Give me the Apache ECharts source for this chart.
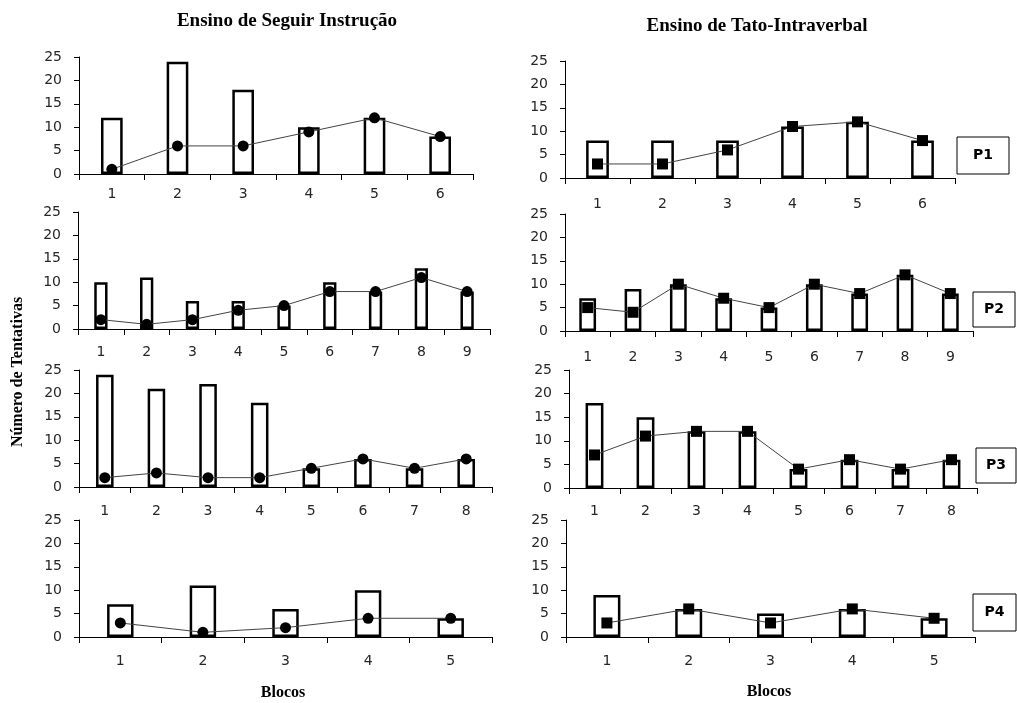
<!DOCTYPE html>
<html>
<head>
<meta charset="utf-8">
<script src="https://cdn.jsdelivr.net/npm/echarts@6/dist/echarts.min.js"></script>
<style>html,body{margin:0;padding:0;background:#fff}#c{width:1017px;height:703px}</style>
</head>
<body>
<div id="c"></div>
<script>
// ---- Data ----
const titleLeft = 'Ensino de Seguir Instrução';
const titleRight = 'Ensino de Tato-Intraverbal';
const yAxisTitle = 'Número de Tentativas';
const xAxisTitle = 'Blocos';
const participantLabels = ['P1', 'P2', 'P3', 'P4'];
const yTickValues = [0, 5, 10, 15, 20, 25];

const blocksP1 = ['1', '2', '3', '4', '5', '6'];
const blocksP2 = ['1', '2', '3', '4', '5', '6', '7', '8', '9'];
const blocksP3 = ['1', '2', '3', '4', '5', '6', '7', '8'];
const blocksP4 = ['1', '2', '3', '4', '5'];

// Seguir Instrução (left column): bars and line (circles)
const siP1Bars = [12, 24, 18, 10, 12, 8];
const siP1Line = [1, 6, 6, 9, 12, 8];
const siP2Bars = [10, 11, 6, 6, 5, 10, 8, 13, 8];
const siP2Line = [2, 1, 2, 4, 5, 8, 8, 11, 8];
const siP3Bars = [24, 21, 22, 18, 4, 6, 4, 6];
const siP3Line = [2, 3, 2, 2, 4, 6, 4, 6];
const siP4Bars = [7, 11, 6, 10, 4];
const siP4Line = [3, 1, 2, 4, 4];

// Tato-Intraverbal (right column): bars and line (squares)
const tiP1Bars = [8, 8, 8, 11, 12, 8];
const tiP1Line = [3, 3, 6, 11, 12, 8];
const tiP2Bars = [7, 9, 10, 7, 5, 10, 8, 12, 8];
const tiP2Line = [5, 4, 10, 7, 5, 10, 8, 12, 8];
const tiP3Bars = [18, 15, 12, 12, 4, 6, 4, 6];
const tiP3Line = [7, 11, 12, 12, 4, 6, 4, 6];
const tiP4Bars = [9, 6, 5, 6, 4];
const tiP4Line = [3, 6, 3, 6, 4];

// ---- Layout ----
const panels = [
  {cats: blocksP1, bars: siP1Bars, line: siP1Line, sym: 'circle', grid: {left: 79, top: 57, width: 394, height: 117}, bw: '33%', lm: 13},
  {cats: blocksP1, bars: tiP1Bars, line: tiP1Line, sym: 'rect',   grid: {left: 565, top: 61, width: 390, height: 117}, bw: '35%', lm: 19},
  {cats: blocksP2, bars: siP2Bars, line: siP2Line, sym: 'circle', grid: {left: 78, top: 212, width: 412, height: 117}, bw: '29%', lm: 16},
  {cats: blocksP2, bars: tiP2Bars, line: tiP2Line, sym: 'rect',   grid: {left: 565, top: 214, width: 408, height: 117}, bw: '37%', lm: 19},
  {cats: blocksP3, bars: siP3Bars, line: siP3Line, sym: 'circle', grid: {left: 79, top: 370, width: 413, height: 117}, bw: '34%', lm: 17},
  {cats: blocksP3, bars: tiP3Bars, line: tiP3Line, sym: 'rect',   grid: {left: 569, top: 370, width: 408, height: 118}, bw: '35%', lm: 16},
  {cats: blocksP4, bars: siP4Bars, line: siP4Line, sym: 'circle', grid: {left: 79, top: 520, width: 413, height: 117}, bw: '32%', lm: 17},
  {cats: blocksP4, bars: tiP4Bars, line: tiP4Line, sym: 'rect',   grid: {left: 566, top: 520, width: 409, height: 117}, bw: '33%', lm: 17}
];
const boxes = [
  {x: 957, y: 137, w: 52, h: 37},
  {x: 973, y: 292, w: 42, h: 35},
  {x: 976, y: 448, w: 40, h: 35},
  {x: 973, y: 594, w: 43, h: 37}
];

const labelFont = {fontFamily: 'DejaVu Sans', fontSize: 14, color: '#262626'};
const grids = [], xAxes = [], yAxes = [], series = [];
panels.forEach((p, i) => {
  grids.push(Object.assign({outerBoundsMode: 'none', containLabel: false}, p.grid));
  xAxes.push({
    type: 'category', gridIndex: i, data: p.cats,
    axisLine: {lineStyle: {color: '#000', width: 1}},
    axisTick: {show: true, length: 6, lineStyle: {color: '#000'}},
    axisLabel: Object.assign({margin: p.lm, interval: 0}, labelFont),
    splitLine: {show: false}
  });
  yAxes.push({
    type: 'value', gridIndex: i, min: yTickValues[0], max: yTickValues[yTickValues.length - 1],
    interval: yTickValues[1] - yTickValues[0],
    axisLine: {show: true, lineStyle: {color: '#000', width: 1}},
    axisTick: {show: true, length: 5, lineStyle: {color: '#000'}},
    axisLabel: Object.assign({margin: 17}, labelFont),
    splitLine: {show: false}
  });
  series.push({
    type: 'bar', xAxisIndex: i, yAxisIndex: i, data: p.bars, barWidth: p.bw,
    itemStyle: {color: '#fff', borderColor: '#000', borderWidth: 2.5},
    silent: true, animation: false
  });
  series.push({
    type: 'line', xAxisIndex: i, yAxisIndex: i, data: p.line,
    symbol: p.sym, symbolSize: 11,
    lineStyle: {color: '#444', width: 1},
    itemStyle: {color: '#000', borderColor: '#000', borderWidth: 0},
    z: 5, silent: true, animation: false
  });
});

const serifBold = {fontFamily: 'Liberation Serif', fontWeight: 'bold', fill: '#000'};
const graphic = [
  {type: 'text', x: 287, y: 21, style: Object.assign({text: titleLeft, fontSize: 19, align: 'center', verticalAlign: 'middle'}, serifBold)},
  {type: 'text', x: 757, y: 26, style: Object.assign({text: titleRight, fontSize: 19, align: 'center', verticalAlign: 'middle'}, serifBold)},
  {type: 'text', x: 283, y: 693, style: Object.assign({text: xAxisTitle, fontSize: 16, align: 'center', verticalAlign: 'middle'}, serifBold)},
  {type: 'text', x: 769, y: 692, style: Object.assign({text: xAxisTitle, fontSize: 16, align: 'center', verticalAlign: 'middle'}, serifBold)},
  {type: 'text', x: 18, y: 372, rotation: Math.PI / 2,
   style: Object.assign({text: yAxisTitle, fontSize: 16, align: 'center', verticalAlign: 'middle'}, serifBold)}
];
boxes.forEach((b, i) => {
  graphic.push({type: 'rect', shape: {x: b.x, y: b.y, width: b.w, height: b.h},
    style: {fill: '#fff', stroke: '#000', lineWidth: 1}});
  graphic.push({type: 'text', x: b.x + b.w / 2, y: b.y + b.h / 2,
    style: {text: participantLabels[i], fontFamily: 'DejaVu Sans', fontWeight: 'bold', fontSize: 14,
      fill: '#000', align: 'center', verticalAlign: 'middle'}});
});

const chart = echarts.init(document.getElementById('c'), null, {renderer: 'canvas'});
chart.setOption({
  backgroundColor: '#fff',
  animation: false,
  grid: grids, xAxis: xAxes, yAxis: yAxes, series: series,
  graphic: graphic
});
</script>
</body>
</html>
